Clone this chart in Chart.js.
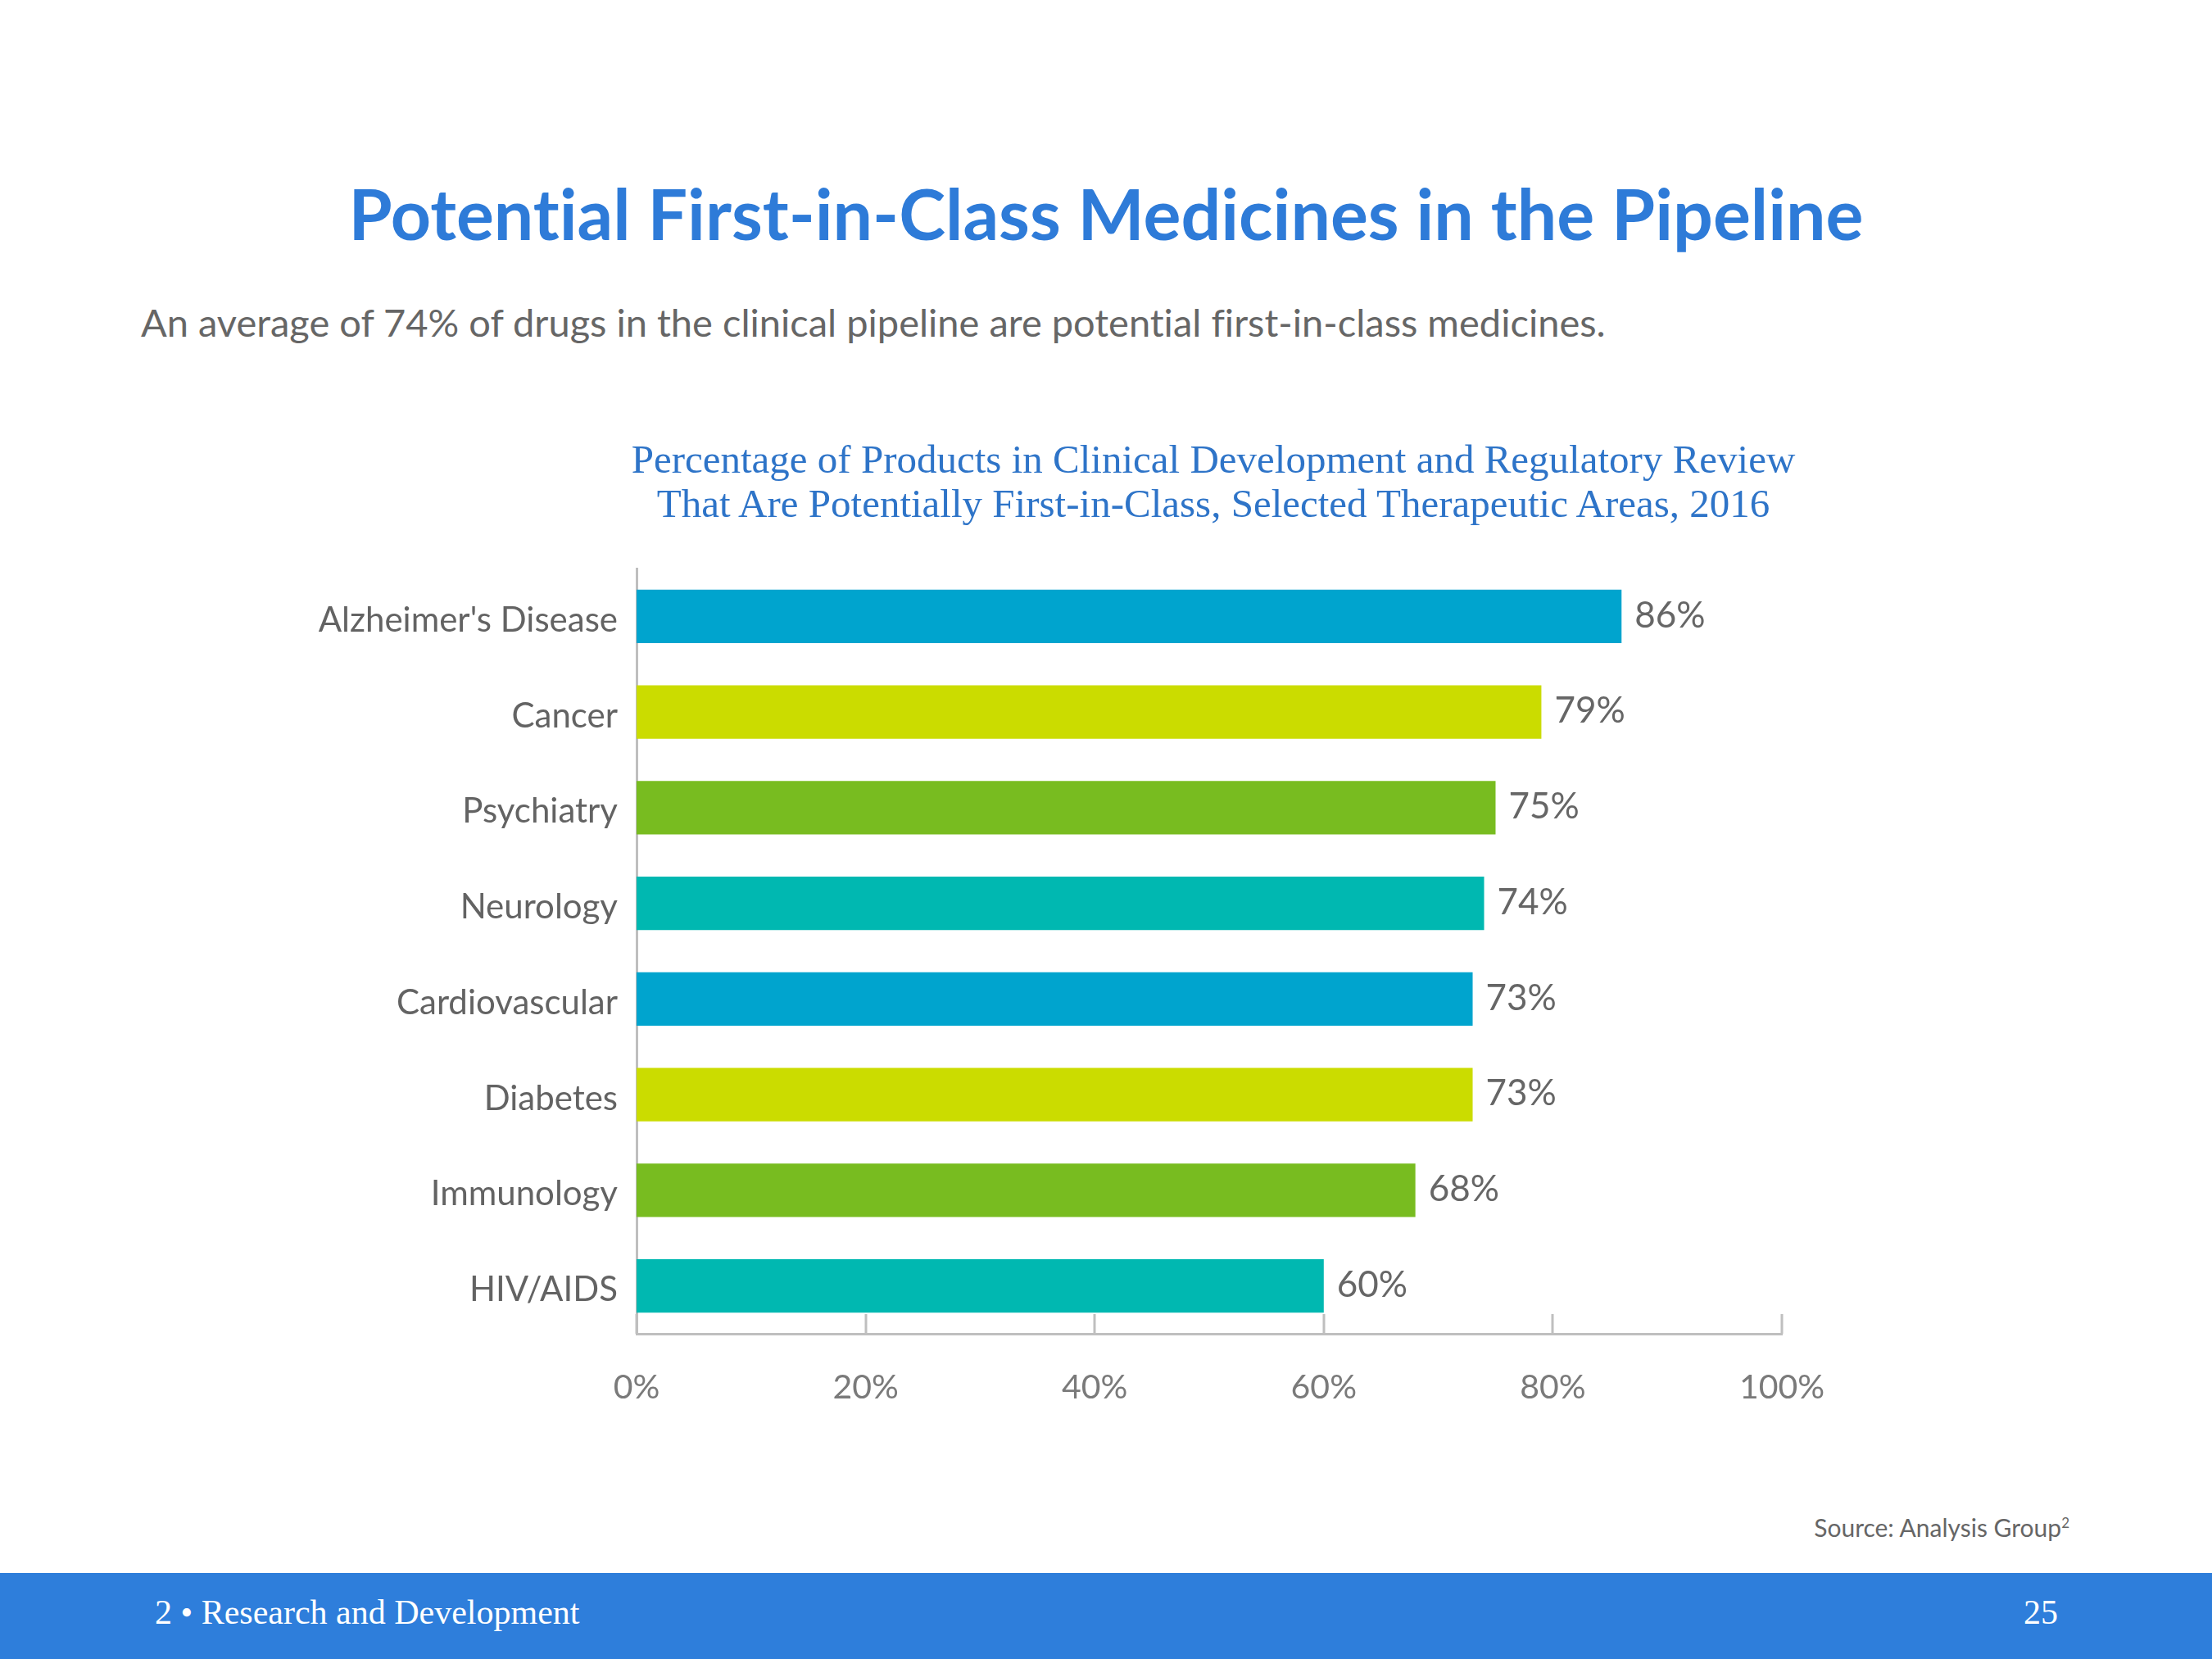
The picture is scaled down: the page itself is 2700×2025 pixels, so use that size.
<!DOCTYPE html>
<html>
<head>
<meta charset="utf-8">
<script src="https://cdn.jsdelivr.net/npm/chart.js@4.4.1/dist/chart.umd.min.js"></script>
<style>
    html, body { margin: 0; padding: 0; background: #fff; }
    body { width: 2700px; height: 2025px; position: relative; overflow: hidden; font-family: Lato, sans-serif; font-variant-ligatures: none; }
    .title { position: absolute; top: 210px; left: 0; width: 2700px; text-align: center; font-weight: bold; font-size: 86px; color: #2E7BD8; line-height: 100px; }
    .subtitle { position: absolute; top: 363px; left: 172px; font-size: 47px; color: #666; line-height: 60px; }
    .chart-title { position: absolute; top: 534px; left: 481px; width: 2000px; text-align: center; font-family: "Liberation Serif", serif; font-size: 49px; color: #2E74C8; line-height: 54px; }
    .source { position: absolute; top: 1846px; right: 174px; font-size: 30px; color: #666; }
    .source sup { font-size: 17px; }
    .footer { position: absolute; top: 1920px; left: 0; width: 2700px; height: 105px; background: #2E7EDB; color: #fff; font-family: "Liberation Serif", serif; font-size: 42px; }
    .footer .left { position: absolute; left: 189px; top: 24px; }
    .footer .right { position: absolute; right: 188px; top: 24px; }
    #wrap { position: absolute; left: 0; top: 680px; width: 2700px; height: 1080px; }
</style>
</head>
<body>
<div class="title">Potential First-in-Class Medicines in the Pipeline</div>
<div class="subtitle">An average of 74% of drugs in the clinical pipeline are potential first-in-class medicines.</div>
<div class="chart-title">Percentage of Products in Clinical Development and Regulatory Review<br>That Are Potentially First-in-Class, Selected Therapeutic Areas, 2016</div>
<div id="wrap"><canvas id="barChart" width="2700" height="1080"></canvas></div>
<div class="source">Source: Analysis Group<sup>2</sup></div>
<div class="footer"><span class="left">2 • Research and Development</span><span class="right">25</span></div>

<script>
// Data
const categories = ["Alzheimer's Disease", 'Cancer', 'Psychiatry', 'Neurology', 'Cardiovascular', 'Diabetes', 'Immunology', 'HIV/AIDS'];
const shares = [86, 79, 75, 74, 73, 73, 68, 60];
const xTicks = [0, 20, 40, 60, 80, 100];
const barColors = ['#00A4CE', '#CBDC00', '#78BC20', '#00B8B1', '#00A4CE', '#CBDC00', '#78BC20', '#00B8B1'];

const axisGray = '#BFBFBF';

// Value labels at bar ends
const valueLabels = {
    id: 'valueLabels',
    afterDatasetsDraw(chart) {
        const ctx = chart.ctx;
        const meta = chart.getDatasetMeta(0);
        ctx.save();
        ctx.font = '44px Lato';
        ctx.fillStyle = '#666';
        ctx.textBaseline = 'middle';
        ctx.textAlign = 'left';
        meta.data.forEach((bar, i) => {
            ctx.fillText(shares[i] + '%', bar.x + 16, bar.y - 1);
        });
        ctx.restore();
    }
};

// Tick marks pointing up from the x axis
const innerTicks = {
    id: 'innerTicks',
    afterDraw(chart) {
        const ctx = chart.ctx;
        const xScale = chart.scales.x;
        const bottom = chart.chartArea.bottom;
        ctx.save();
        ctx.strokeStyle = axisGray;
        ctx.lineWidth = 3;
        xTicks.forEach(v => {
            const px = Math.round(xScale.getPixelForValue(v));
            ctx.beginPath();
            ctx.moveTo(px, bottom);
            ctx.lineTo(px, bottom - 24);
            ctx.stroke();
        });
        ctx.restore();
    }
};

new Chart(document.querySelector('#barChart'), {
    type: 'bar',
    data: {
        labels: categories,
        datasets: [{
            data: shares,
            backgroundColor: barColors,
            borderWidth: 0,
            categoryPercentage: 1,
            barPercentage: 0.56
        }]
    },
    options: {
        indexAxis: 'y',
        responsive: false,
        animation: false,
        devicePixelRatio: 1,
        layout: { padding: { top: 14, right: 525, left: 0, bottom: 0 } },
        plugins: {
            legend: { display: false },
            tooltip: { enabled: false }
        },
        scales: {
            x: {
                min: 0,
                max: 100,
                afterBuildTicks: scale => { scale.ticks = xTicks.map(v => ({ value: v })); },
                afterFit: scale => {
                    scale.height = 132;
                    scale.paddingLeft = 0;
                    scale.paddingRight = 0;
                },
                grid: { display: false, drawTicks: false },
                border: { display: true, color: axisGray, width: 3 },
                ticks: {
                    padding: 41,
                    color: '#7a7a7a',
                    font: { family: 'Lato', size: 41 },
                    callback: v => v + '%'
                }
            },
            y: {
                afterFit: scale => {
                    scale.width = 777;
                    scale.paddingTop = 0;
                    scale.paddingBottom = 0;
                },
                grid: { display: false, drawTicks: false },
                border: { display: true, color: axisGray, width: 3 },
                ticks: {
                    padding: 23,
                    labelOffset: 5,
                    color: '#636363',
                    font: { family: 'Lato', size: 42 }
                }
            }
        }
    },
    plugins: [valueLabels, innerTicks]
});
</script>
</body>
</html>
